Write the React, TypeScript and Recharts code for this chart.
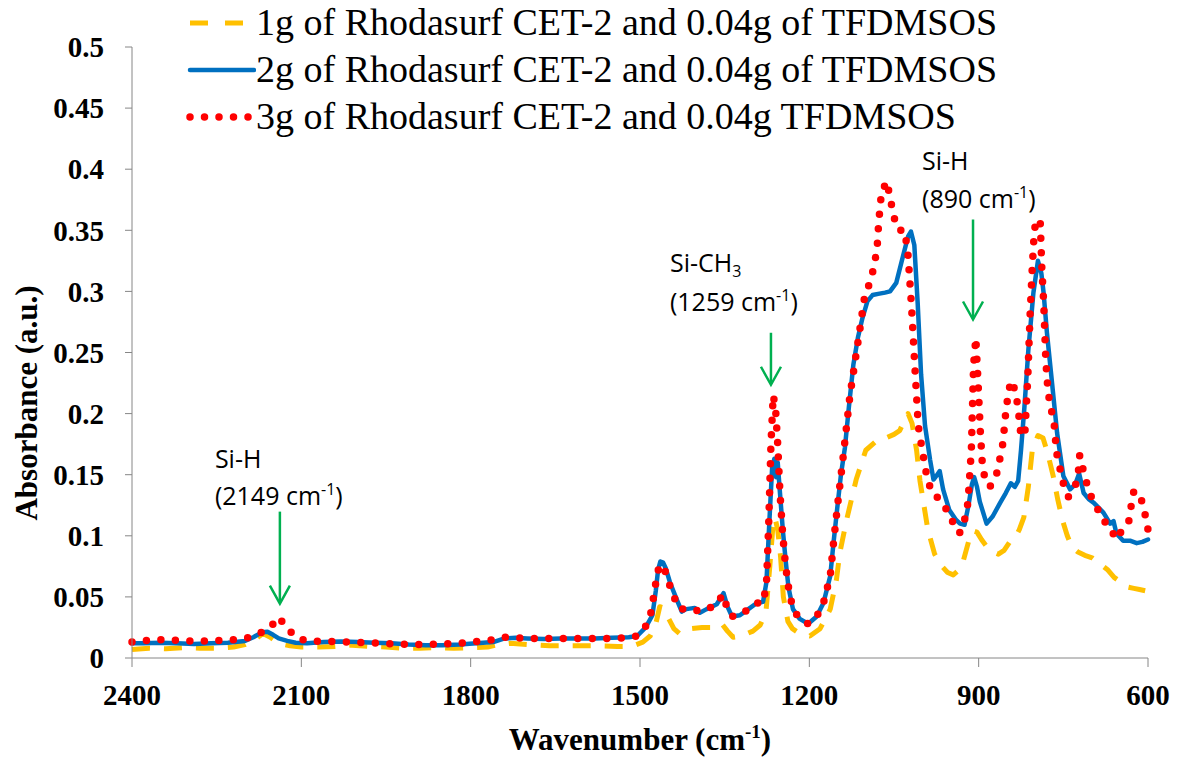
import { LineChart, Line, XAxis, YAxis, ReferenceDot, Legend, Label } from "recharts";

// [wavenumber (cm-1), absorbance]
const oneGram: [number, number][] = [
  [2400, 0.007], [2370, 0.008], [2340, 0.0075], [2310, 0.0085], [2280, 0.008], [2250, 0.008],
  [2220, 0.009], [2200, 0.011], [2180, 0.016], [2168, 0.02], [2155, 0.017], [2140, 0.012],
  [2120, 0.01], [2100, 0.009], [2070, 0.009], [2040, 0.0095], [2010, 0.0105], [1980, 0.0095],
  [1950, 0.009], [1920, 0.008], [1890, 0.008], [1860, 0.0085], [1830, 0.008], [1800, 0.0085],
  [1770, 0.009], [1750, 0.011], [1730, 0.012], [1700, 0.011], [1660, 0.01], [1620, 0.01],
  [1580, 0.01], [1540, 0.0095], [1515, 0.0095], [1495, 0.013], [1482, 0.018], [1473, 0.026],
  [1465, 0.042], [1458, 0.041], [1450, 0.033], [1440, 0.024], [1430, 0.02], [1411, 0.024],
  [1390, 0.025], [1370, 0.025], [1355, 0.028], [1345, 0.022], [1335, 0.017], [1320, 0.018],
  [1300, 0.022], [1287, 0.027], [1277, 0.037], [1270, 0.075], [1265, 0.105], [1261, 0.115],
  [1256, 0.105], [1251, 0.083], [1246, 0.05], [1238, 0.03], [1230, 0.024], [1217, 0.02],
  [1199, 0.018], [1181, 0.024], [1163, 0.04], [1152, 0.064], [1146, 0.086], [1134, 0.113],
  [1117, 0.146], [1100, 0.17], [1080, 0.178], [1065, 0.18], [1050, 0.183], [1040, 0.186],
  [1030, 0.196], [1025, 0.2], [1018, 0.192], [1010, 0.17], [1004, 0.145], [997, 0.125],
  [990, 0.105], [978, 0.085], [965, 0.075], [955, 0.07], [945, 0.068], [935, 0.072],
  [927, 0.08], [918, 0.095], [910, 0.104], [903, 0.103], [895, 0.097], [887, 0.092],
  [875, 0.087], [865, 0.085], [855, 0.088], [845, 0.095], [836, 0.098], [828, 0.105],
  [820, 0.115], [812, 0.14], [805, 0.17], [795, 0.182], [786, 0.18], [778, 0.168],
  [768, 0.149], [760, 0.13], [751, 0.112], [743, 0.1], [735, 0.091], [725, 0.087],
  [712, 0.084], [699, 0.082], [685, 0.077], [671, 0.072], [660, 0.066], [648, 0.062],
  [635, 0.058], [625, 0.057], [615, 0.056], [605, 0.055],
];

const twoGram: [number, number][] = [
  [2400, 0.012], [2380, 0.012], [2350, 0.0125], [2320, 0.012], [2290, 0.0115], [2260, 0.012],
  [2230, 0.0125], [2200, 0.014], [2185, 0.017], [2170, 0.021], [2160, 0.0215], [2150, 0.019],
  [2140, 0.016], [2125, 0.014], [2110, 0.0125], [2090, 0.012], [2060, 0.013], [2030, 0.0135],
  [2000, 0.013], [1970, 0.0125], [1940, 0.012], [1910, 0.011], [1880, 0.0105], [1850, 0.0105],
  [1820, 0.011], [1790, 0.012], [1760, 0.013], [1740, 0.016], [1720, 0.0165], [1700, 0.016],
  [1670, 0.0155], [1640, 0.016], [1610, 0.016], [1580, 0.016], [1550, 0.0165], [1520, 0.017],
  [1505, 0.018], [1490, 0.025], [1478, 0.035], [1472, 0.055], [1468, 0.072], [1464, 0.079],
  [1459, 0.078], [1454, 0.073], [1447, 0.062], [1435, 0.048], [1426, 0.038], [1418, 0.04],
  [1403, 0.041], [1394, 0.037], [1382, 0.04], [1364, 0.044], [1352, 0.053], [1345, 0.042],
  [1337, 0.034], [1323, 0.035], [1308, 0.04], [1293, 0.045], [1282, 0.046], [1276, 0.062],
  [1271, 0.11], [1266, 0.155], [1262, 0.163], [1259, 0.148], [1256, 0.16], [1252, 0.135],
  [1247, 0.105], [1242, 0.08], [1237, 0.058], [1229, 0.04], [1217, 0.032], [1202, 0.028],
  [1187, 0.034], [1175, 0.045], [1163, 0.067], [1157, 0.095], [1150, 0.125], [1144, 0.15],
  [1137, 0.172], [1130, 0.205], [1122, 0.24], [1114, 0.262], [1106, 0.278], [1097, 0.292],
  [1088, 0.297], [1078, 0.298], [1066, 0.299], [1057, 0.3], [1046, 0.307], [1034, 0.329],
  [1025, 0.345], [1020, 0.349], [1014, 0.338], [1008, 0.29], [1002, 0.232], [995, 0.19],
  [986, 0.162], [980, 0.146], [975, 0.149], [969, 0.153], [963, 0.138], [952, 0.121],
  [940, 0.113], [933, 0.11], [925, 0.109], [918, 0.125], [912, 0.142], [908, 0.148],
  [903, 0.14], [898, 0.128], [886, 0.11], [875, 0.116], [862, 0.127], [852, 0.135],
  [843, 0.143], [836, 0.14], [830, 0.145], [825, 0.17], [819, 0.205], [812, 0.252],
  [803, 0.299], [795, 0.325], [789, 0.315], [785, 0.299], [779, 0.266], [770, 0.225],
  [761, 0.184], [750, 0.149], [738, 0.138], [729, 0.142], [722, 0.151], [714, 0.135],
  [705, 0.13], [696, 0.127], [679, 0.119], [667, 0.11], [661, 0.112], [656, 0.102],
  [644, 0.096], [632, 0.096], [620, 0.094], [610, 0.095], [600, 0.097],
];

const threeGram: [number, number][] = [
  [2400, 0.013], [2370, 0.0145], [2340, 0.015], [2300, 0.014], [2260, 0.014], [2220, 0.015],
  [2190, 0.017], [2170, 0.021], [2155, 0.025], [2140, 0.0335], [2128, 0.026], [2110, 0.017],
  [2090, 0.014], [2050, 0.0135], [2010, 0.013], [1980, 0.0125], [1940, 0.0115], [1900, 0.011],
  [1860, 0.0112], [1820, 0.012], [1790, 0.0135], [1760, 0.015], [1740, 0.017], [1720, 0.0165],
  [1690, 0.016], [1650, 0.016], [1600, 0.016], [1560, 0.016], [1520, 0.0165], [1505, 0.018],
  [1490, 0.026], [1480, 0.038], [1474, 0.056], [1469, 0.07], [1465, 0.076], [1458, 0.075],
  [1450, 0.063], [1440, 0.05], [1430, 0.04], [1420, 0.04], [1405, 0.04], [1395, 0.038],
  [1382, 0.04], [1366, 0.043], [1353, 0.052], [1345, 0.04], [1337, 0.034], [1323, 0.035],
  [1308, 0.04], [1293, 0.045], [1282, 0.045], [1276, 0.06], [1272, 0.11], [1268, 0.175],
  [1264, 0.215], [1260, 0.205], [1256, 0.175], [1252, 0.135], [1247, 0.1], [1242, 0.075],
  [1236, 0.055], [1229, 0.04], [1217, 0.032], [1202, 0.028], [1187, 0.034], [1175, 0.045],
  [1163, 0.067], [1157, 0.095], [1150, 0.125], [1140, 0.165], [1128, 0.215], [1114, 0.258],
  [1102, 0.296], [1093, 0.307], [1086, 0.319], [1080, 0.335], [1077, 0.357], [1072, 0.382],
  [1062, 0.39], [1058, 0.378], [1051, 0.364], [1046, 0.352], [1038, 0.35], [1031, 0.35],
  [1025, 0.329], [1019, 0.288], [1013, 0.238], [1007, 0.19], [1001, 0.173], [992, 0.149],
  [983, 0.135], [969, 0.13], [960, 0.124], [948, 0.113], [934, 0.102], [925, 0.113],
  [919, 0.127], [913, 0.17], [909, 0.24], [905, 0.262], [901, 0.225], [897, 0.185],
  [893, 0.155], [888, 0.146], [880, 0.14], [868, 0.151], [862, 0.164], [857, 0.176],
  [852, 0.201], [848, 0.215], [843, 0.227], [835, 0.219], [830, 0.204], [825, 0.181],
  [818, 0.185], [813, 0.229], [809, 0.28], [805, 0.32], [802, 0.345], [799, 0.358],
  [791, 0.358], [788, 0.318], [785, 0.293], [781, 0.243], [777, 0.217], [772, 0.205],
  [766, 0.19], [762, 0.168], [756, 0.155], [750, 0.143], [741, 0.132], [729, 0.14],
  [723, 0.154], [721, 0.166], [716, 0.156], [708, 0.142], [699, 0.13], [687, 0.12],
  [679, 0.113], [667, 0.106], [656, 0.097], [644, 0.106], [634, 0.112], [630, 0.124],
  [625, 0.137], [612, 0.13], [605, 0.117], [600, 0.105],
];

const xTicks = [2400, 2100, 1800, 1500, 1200, 900, 600];
const yTicks = [0, 0.05, 0.1, 0.15, 0.2, 0.25, 0.3, 0.35, 0.4, 0.45, 0.5];

const seriesNames = [
  "1g of Rhodasurf CET-2 and 0.04g of TFDMSOS",
  "2g of Rhodasurf CET-2 and 0.04g of TFDMSOS",
  "3g of Rhodasurf CET-2 and 0.04g TFDMSOS",
];

// arrow tip sits at (wn, abs); text offsets are in pixels from the tip
const peakNotes = [
  { wn: 2138, abs: 0.0445, group: "Si-H", sub: "", wave: "2149", dx: -65, dy1: -136, dy2: -99, shaft: 92 },
  { wn: 1268, abs: 0.2236, group: "Si-CH", sub: "3", wave: "1259", dx: -101, dy1: -113, dy2: -74, shaft: 52 },
  { wn: 910, abs: 0.277, group: "Si-H", sub: "", wave: "890", dx: -51, dy1: -150, dy2: -112, shaft: 100 },
];

const toPoints = (rows: [number, number][]) => rows.map(([wn, abs]) => ({ wn, abs }));

const SERIF = '"Times New Roman", "Liberation Serif", serif';
const SANS = '"Open Sans", "Noto Sans", sans-serif';
const AXIS = "#868686";
const GREEN = "#00B050";

const styles = [
  { color: "#FFC000", width: 5, dash: "18 14", cap: "butt" as const },
  { color: "#0070C0", width: 4.5, dash: undefined, cap: "round" as const },
  { color: "#FF0000", width: 7.5, dash: "0 14.5", cap: "round" as const },
];

function LegendBox() {
  return (
    <div style={{ fontFamily: SERIF, fontSize: 38, lineHeight: "47px", color: "#000" }}>
      {seriesNames.map((name, i) => (
        <div key={name} style={{ display: "flex", alignItems: "center", whiteSpace: "nowrap" }}>
          <svg width={70} height={12}>
            <line
              x1={4}
              y1={6}
              x2={i === 0 ? 60 : 68}
              y2={6}
              stroke={styles[i].color}
              strokeWidth={styles[i].width}
              strokeDasharray={i === 0 ? "18 17" : i === 2 ? "0 14.5" : undefined}
              strokeLinecap={styles[i].cap}
            />
          </svg>
          <span style={{ marginLeft: 0 }}>{name}</span>
        </div>
      ))}
    </div>
  );
}

function PeakNote(props: any, note: (typeof peakNotes)[number]) {
  const { cx, cy } = props;
  if (cx == null || cy == null) return <g />;
  const tx = cx + note.dx;
  return (
    <g>
      <line x1={cx} y1={cy - note.shaft} x2={cx} y2={cy - 1} stroke={GREEN} strokeWidth={2.5} />
      <polyline
        points={`${cx - 10},${cy - 18} ${cx},${cy} ${cx + 10},${cy - 18}`}
        fill="none"
        stroke={GREEN}
        strokeWidth={2.5}
      />
      <text x={tx} y={cy + note.dy1} fontFamily={SANS} fontSize={25} fill="#000">
        {note.group}
        {note.sub && (
          <tspan dy={5} fontSize={16}>
            {note.sub}
          </tspan>
        )}
      </text>
      <text x={tx} y={cy + note.dy2} fontFamily={SANS} fontSize={25} fill="#000">
        {`(${note.wave} cm`}
        <tspan dy={-10} fontSize={16}>
          -1
        </tspan>
        <tspan dy={10}>)</tspan>
      </text>
    </g>
  );
}

export default function App() {
  const data = [toPoints(oneGram), toPoints(twoGram), toPoints(threeGram)];
  return (
    <div style={{ position: "absolute", left: 0, top: 0, background: "#fff" }}>
      <LineChart width={1177} height={759} margin={{ top: 47, right: 29, left: 0, bottom: 0 }}>
        <XAxis
          dataKey="wn"
          type="number"
          domain={[600, 2400]}
          reversed
          ticks={xTicks}
          height={101}
          tickSize={9}
          tickMargin={17}
          stroke={AXIS}
          tick={{ fill: "#000", fontFamily: SERIF, fontSize: 29, fontWeight: "bold" }}
          allowDuplicatedCategory={false}
        >
          <Label
            content={({ viewBox }: any) => (
              <text
                x={viewBox.x + viewBox.width / 2}
                y={viewBox.y + 92}
                textAnchor="middle"
                fontFamily={SERIF}
                fontSize={31}
                fontWeight="bold"
                fill="#000"
              >
                Wavenumber (cm
                <tspan dy={-12} fontSize={19}>
                  -1
                </tspan>
                <tspan dy={12}>)</tspan>
              </text>
            )}
          />
        </XAxis>
        <YAxis
          type="number"
          domain={[0, 0.5]}
          ticks={yTicks}
          width={132}
          tickSize={7}
          tickMargin={21}
          stroke={AXIS}
          tick={{ fill: "#000", fontFamily: SERIF, fontSize: 29, fontWeight: "bold" }}
        >
          <Label
            content={() => (
              <text
                x={0}
                y={0}
                transform="translate(37, 403) rotate(-90)"
                textAnchor="middle"
                fontFamily={SERIF}
                fontSize={31}
                fontWeight="bold"
                fill="#000"
              >
                Absorbance (a.u.)
              </text>
            )}
          />
        </YAxis>
        <Legend
          layout="vertical"
          align="center"
          verticalAlign="middle"
          wrapperStyle={{ left: 186, top: -1, width: 960 }}
          content={() => <LegendBox />}
        />
        {data.map((rows, i) => (
          <Line
            key={seriesNames[i]}
            data={rows}
            dataKey="abs"
            name={seriesNames[i]}
            type="linear"
            stroke={styles[i].color}
            strokeWidth={styles[i].width}
            strokeDasharray={styles[i].dash}
            strokeLinecap={styles[i].cap}
            strokeLinejoin="round"
            dot={false}
            activeDot={false}
            isAnimationActive={false}
          />
        ))}
        {peakNotes.map((note) => (
          <ReferenceDot
            key={note.wave}
            x={note.wn}
            y={note.abs}
            r={0}
            ifOverflow="visible"
            shape={(p: any) => PeakNote(p, note)}
          />
        ))}
      </LineChart>
    </div>
  );
}
